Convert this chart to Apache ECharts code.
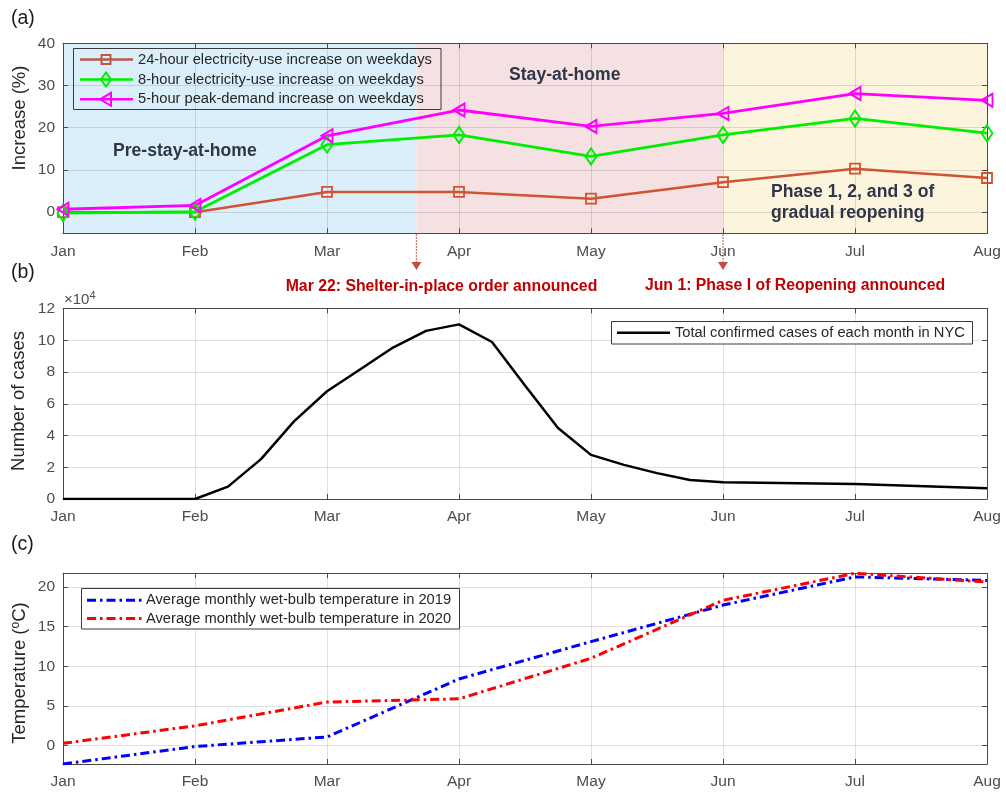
<!DOCTYPE html>
<html>
<head>
<meta charset="utf-8">
<title>NYC electricity use, COVID-19 cases and wet-bulb temperature, 2020</title>
<script src="https://cdn.jsdelivr.net/npm/echarts@6/dist/echarts.min.js"></script>
<style>
  html, body { margin: 0; padding: 0; background: #ffffff; }
  #chart { width: 1006px; height: 792px; }
</style>
</head>
<body>
<div id="chart"></div>
<script>
// ---- data -------------------------------------------------------------
const months = ['Jan', 'Feb', 'Mar', 'Apr', 'May', 'Jun', 'Jul', 'Aug'];
const monthPos = [0, 1, 2, 3, 4, 5, 6, 7];

// (a) weekday electricity-use increase, %
const use24h = [0, 0, 4.8, 4.8, 3.2, 7.1, 10.3, 8.1];
const use8h = [-0.2, 0.1, 16.0, 18.3, 13.2, 18.3, 22.2, 18.7];
const peak5h = [0.7, 1.6, 18.1, 24.2, 20.3, 23.4, 28.1, 26.5];
const increaseTicks = [0, 10, 20, 30, 40];

// policy phases (in months since Jan 1)
const shelterStart = 2 + 21 / 31;   // Mar 22
const reopenStart = 5;              // Jun 1

// (b) total confirmed cases in NYC (weekly sampling until June)
const caseTimes = [0, 1, 1.25, 1.5, 1.75, 2, 2.25, 2.5, 2.75, 3, 3.25, 3.5, 3.75, 4, 4.25, 4.5, 4.75, 5, 6, 7];
const nycCases = [0, 0, 7800, 25100, 48900, 67900, 81600, 95400, 105900, 110000, 98900, 71500, 44700, 27800, 21500, 16300, 12000, 10600, 9500, 6800];
const caseTicks = [0, 20000, 40000, 60000, 80000, 100000, 120000];

// (c) average monthly wet-bulb temperature, degC
const wetBulb2019 = [-2.3, -0.1, 1.1, 8.4, 13.1, 17.7, 21.25, 20.8];
const wetBulb2020 = [0.3, 2.5, 5.5, 5.9, 11.0, 18.3, 21.7, 20.6];
const tempTicks = [0, 5, 10, 15, 20];

// ---- styling helpers --------------------------------------------------
const FONT = "'Liberation Sans', Arial, Helvetica, sans-serif";
const AXIS_COLOR = '#4a4a4a';
const LABEL_COLOR = '#4d4d4d';
const GRID_LINE = 'rgba(38,38,38,0.14)';

const grids = [
  { left: 63, right: 19, top: 43.3, height: 190 },
  { left: 63, right: 19, top: 308.5, height: 190.5 },
  { left: 63, right: 19, top: 573.3, height: 190.7 }
];

function monthAxis(gridIndex, position) {
  const main = position === 'bottom';
  return {
    type: 'value', gridIndex, position, min: 0, max: 7, interval: 1,
    axisLine: { show: true, onZero: false, lineStyle: { color: AXIS_COLOR, width: 1 } },
    axisTick: { show: true, inside: true, length: 5, lineStyle: { color: AXIS_COLOR } },
    axisLabel: {
      show: main, margin: 10, fontSize: 15.5, color: LABEL_COLOR, fontFamily: FONT,
      formatter: v => months[Math.round(v)]
    },
    splitLine: { show: main, lineStyle: { color: GRID_LINE, width: 1 } }
  };
}

function valueAxis(gridIndex, position, min, max, ticks, fmt) {
  const main = position === 'left';
  return {
    type: 'value', gridIndex, position, min, max,
    axisLine: { show: true, onZero: false, lineStyle: { color: AXIS_COLOR, width: 1 } },
    axisTick: { show: true, inside: true, length: 5, customValues: ticks, lineStyle: { color: AXIS_COLOR } },
    axisLabel: {
      show: main, margin: 8, fontSize: 15.5, color: LABEL_COLOR, fontFamily: FONT,
      customValues: ticks, formatter: fmt
    },
    splitLine: { show: main, lineStyle: { color: GRID_LINE, width: 1 } }
  };
}

const pairs = (xs, ys) => xs.map((x, i) => [x, ys[i]]);

const c24 = '#d05432';
const c8 = '#00ee00';
const c5 = '#ff00ff';

const chart = echarts.init(document.getElementById('chart'), null, { renderer: 'canvas' });

chart.setOption({
  animation: false,
  backgroundColor: '#ffffff',
  textStyle: { fontFamily: FONT },
  grid: grids,
  xAxis: [
    monthAxis(0, 'bottom'), monthAxis(0, 'top'),
    monthAxis(1, 'bottom'), monthAxis(1, 'top'),
    monthAxis(2, 'bottom'), monthAxis(2, 'top')
  ],
  yAxis: [
    valueAxis(0, 'left', -5, 40, increaseTicks, v => String(v)),
    valueAxis(0, 'right', -5, 40, increaseTicks, () => ''),
    valueAxis(1, 'left', 0, 120000, caseTicks, v => String(v / 10000)),
    valueAxis(1, 'right', 0, 120000, caseTicks, () => ''),
    valueAxis(2, 'left', -2.3, 21.7, tempTicks, v => String(v)),
    valueAxis(2, 'right', -2.3, 21.7, tempTicks, () => '')
  ],
  series: [
    // phase shading behind the grid lines
    {
      type: 'line', xAxisIndex: 0, yAxisIndex: 0, z: -1,
      data: [[0, 0]], showSymbol: false, lineStyle: { width: 0, opacity: 0 }, silent: true,
      markArea: {
        silent: true, z: -1,
        data: [
          [{ xAxis: 0, itemStyle: { color: '#dbeffa' } }, { xAxis: shelterStart }],
          [{ xAxis: shelterStart, itemStyle: { color: '#f5e1e1' } }, { xAxis: reopenStart }],
          [{ xAxis: reopenStart, itemStyle: { color: '#fdf4de' } }, { xAxis: 7 }]
        ]
      }
    },
    {
      name: '24-hour electricity-use increase on weekdays', type: 'line',
      xAxisIndex: 0, yAxisIndex: 0, data: pairs(monthPos, use24h),
      symbol: 'rect', symbolSize: 10,
      lineStyle: { color: c24, width: 2.5 },
      itemStyle: { color: 'rgba(0,0,0,0)', borderColor: c24, borderWidth: 1.8 }
    },
    {
      name: '8-hour electricity-use increase on weekdays', type: 'line',
      xAxisIndex: 0, yAxisIndex: 0, data: pairs(monthPos, use8h),
      symbol: 'diamond', symbolSize: [11, 16],
      lineStyle: { color: c8, width: 2.8 },
      itemStyle: { color: 'rgba(0,0,0,0)', borderColor: c8, borderWidth: 2 }
    },
    {
      name: '5-hour peak-demand increase on weekdays', type: 'line',
      xAxisIndex: 0, yAxisIndex: 0, data: pairs(monthPos, peak5h),
      symbol: 'triangle', symbolSize: [13, 11], symbolRotate: 90,
      lineStyle: { color: c5, width: 2.8 },
      itemStyle: { color: 'rgba(0,0,0,0)', borderColor: c5, borderWidth: 2 }
    },
    {
      name: 'Total confirmed cases of each month in NYC', type: 'line',
      xAxisIndex: 2, yAxisIndex: 2, data: pairs(caseTimes, nycCases),
      symbol: 'none', lineStyle: { color: '#000000', width: 2.5 }
    },
    {
      name: 'Average monthly wet-bulb temperature in 2019', type: 'line',
      xAxisIndex: 4, yAxisIndex: 4, data: pairs(monthPos, wetBulb2019),
      symbol: 'none', lineStyle: { color: '#0000ff', width: 3, type: [9, 4, 2.5, 4] }
    },
    {
      name: 'Average monthly wet-bulb temperature in 2020', type: 'line',
      xAxisIndex: 4, yAxisIndex: 4, data: pairs(monthPos, wetBulb2020),
      symbol: 'none', lineStyle: { color: '#ff0000', width: 3, type: [9, 4, 2.5, 4] }
    }
  ]
});

// ---- annotations, axis titles and legends ----------------------------
const txt = (text, x, y, extra) => ({
  type: 'text', x, y, silent: true,
  style: Object.assign({ text, fontFamily: FONT, fontSize: 14.7, fill: '#262626', verticalAlign: 'middle' }, extra || {})
});

const vText = (text, x, y, extra) => ({
  type: 'text', x, y, rotation: Math.PI / 2, silent: true,
  style: Object.assign({ text, fontFamily: FONT, fontSize: 18.5, fill: '#262626', align: 'center', verticalAlign: 'middle' }, extra || {})
});

const bottomA = chart.convertToPixel({ yAxisIndex: 0 }, -5);
function arrow(xVal) {
  const x = chart.convertToPixel({ xAxisIndex: 0 }, xVal);
  return [
    { type: 'line', silent: true, shape: { x1: x, y1: bottomA + 1, x2: x, y2: 263 },
      style: { stroke: '#bf5040', lineWidth: 1.3, lineDash: [1.5, 1.5] } },
    { type: 'polygon', silent: true, shape: { points: [[x - 5, 262], [x + 5, 262], [x, 270]] },
      style: { fill: '#bf5040' } }
  ];
}

const regionText = { fontWeight: 'bold', fontSize: 17.6, fill: '#2e3648' };
const noteText = { fontWeight: 'bold', fontSize: 15.8, fill: '#c00000', align: 'center' };

// legend for (a)
const legendA = [];
legendA.push({ type: 'rect', silent: true, shape: { x: 73.5, y: 48.5, width: 367.5, height: 61 },
  style: { fill: 'none', stroke: '#3a3a3a', lineWidth: 1 } });
const rowsA = [
  { y: 59.5, color: '#bb5946', label: '24-hour electricity-use increase on weekdays', mark: 'square' },
  { y: 79.5, color: c8, label: '8-hour electricity-use increase on weekdays', mark: 'diamond' },
  { y: 99.3, color: c5, label: '5-hour peak-demand increase on weekdays', mark: 'triangle' }
];
rowsA.forEach(r => {
  legendA.push({ type: 'line', silent: true, shape: { x1: 80, y1: r.y, x2: 133, y2: r.y },
    style: { stroke: r.color, lineWidth: 2.6 } });
  const cx = 106;
  let shape;
  if (r.mark === 'square') {
    shape = { type: 'rect', shape: { x: cx - 4.5, y: r.y - 4.5, width: 9, height: 9 } };
  } else if (r.mark === 'diamond') {
    shape = { type: 'polygon', shape: { points: [[cx, r.y - 7], [cx + 5, r.y], [cx, r.y + 7], [cx - 5, r.y]] } };
  } else {
    shape = { type: 'polygon', shape: { points: [[cx - 6, r.y], [cx + 5, r.y - 6.5], [cx + 5, r.y + 6.5]] } };
  }
  shape.silent = true;
  shape.style = { fill: 'none', stroke: r.color, lineWidth: 2 };
  legendA.push(shape);
  legendA.push(txt(r.label, 138, r.y));
});

// legend for (b)
const legendB = [
  { type: 'rect', silent: true, shape: { x: 611.5, y: 321.5, width: 361, height: 22.5 },
    style: { fill: '#ffffff', stroke: '#3a3a3a', lineWidth: 1 } },
  { type: 'line', silent: true, shape: { x1: 617, y1: 332.8, x2: 670, y2: 332.8 },
    style: { stroke: '#000000', lineWidth: 2.5 } },
  txt('Total confirmed cases of each month in NYC', 675, 332.8)
];

// legend for (c)
const legendC = [
  { type: 'rect', silent: true, shape: { x: 81.5, y: 588.5, width: 378, height: 40.5 },
    style: { fill: '#ffffff', stroke: '#3a3a3a', lineWidth: 1 } },
  { type: 'line', silent: true, shape: { x1: 87, y1: 600.2, x2: 142, y2: 600.2 },
    style: { stroke: '#0000ff', lineWidth: 3, lineDash: [9, 4, 2.5, 4] } },
  txt('Average monthly wet-bulb temperature in 2019', 146, 600.2),
  { type: 'line', silent: true, shape: { x1: 87, y1: 618.5, x2: 142, y2: 618.5 },
    style: { stroke: '#ff0000', lineWidth: 3, lineDash: [9, 4, 2.5, 4] } },
  txt('Average monthly wet-bulb temperature in 2020', 146, 618.5)
];

chart.setOption({
  graphic: [].concat(
    [
      txt('(a)', 11, 18.5, { fontSize: 19.5, fill: '#1a1a1a' }),
      txt('(b)', 11, 273, { fontSize: 19.5, fill: '#1a1a1a' }),
      txt('(c)', 11, 545, { fontSize: 19.5, fill: '#1a1a1a' }),
      vText('Increase (%)', 19.5, 118),
      vText('Number of cases', 19, 401),
      vText('Temperature ({s|o}C)', 20, 673, { rich: { s: { fontSize: 12, fontFamily: FONT, fill: '#262626', verticalAlign: 'top', padding: [0, 0, 8, 0] } } }),
      {
        type: 'text', x: 64, y: 300, silent: true,
        style: {
          text: '×10{p|4}', fontFamily: FONT, fontSize: 15, fill: LABEL_COLOR, verticalAlign: 'middle',
          rich: { p: { fontSize: 11, fontFamily: FONT, fill: LABEL_COLOR, padding: [0, 0, 9, 0] } }
        }
      },
      txt('Pre-stay-at-home', 113, 151, regionText),
      txt('Stay-at-home', 509, 75, regionText),
      txt('Phase 1, 2, and 3 of', 771, 192.5, regionText),
      txt('gradual reopening', 771, 213.5, regionText),
      txt('Mar 22: Shelter-in-place order announced', 441.5, 286.5, noteText),
      txt('Jun 1: Phase I of Reopening announced', 795, 285.5, noteText)
    ],
    arrow(shelterStart),
    arrow(reopenStart),
    legendA, legendB, legendC
  )
});
</script>
</body>
</html>
